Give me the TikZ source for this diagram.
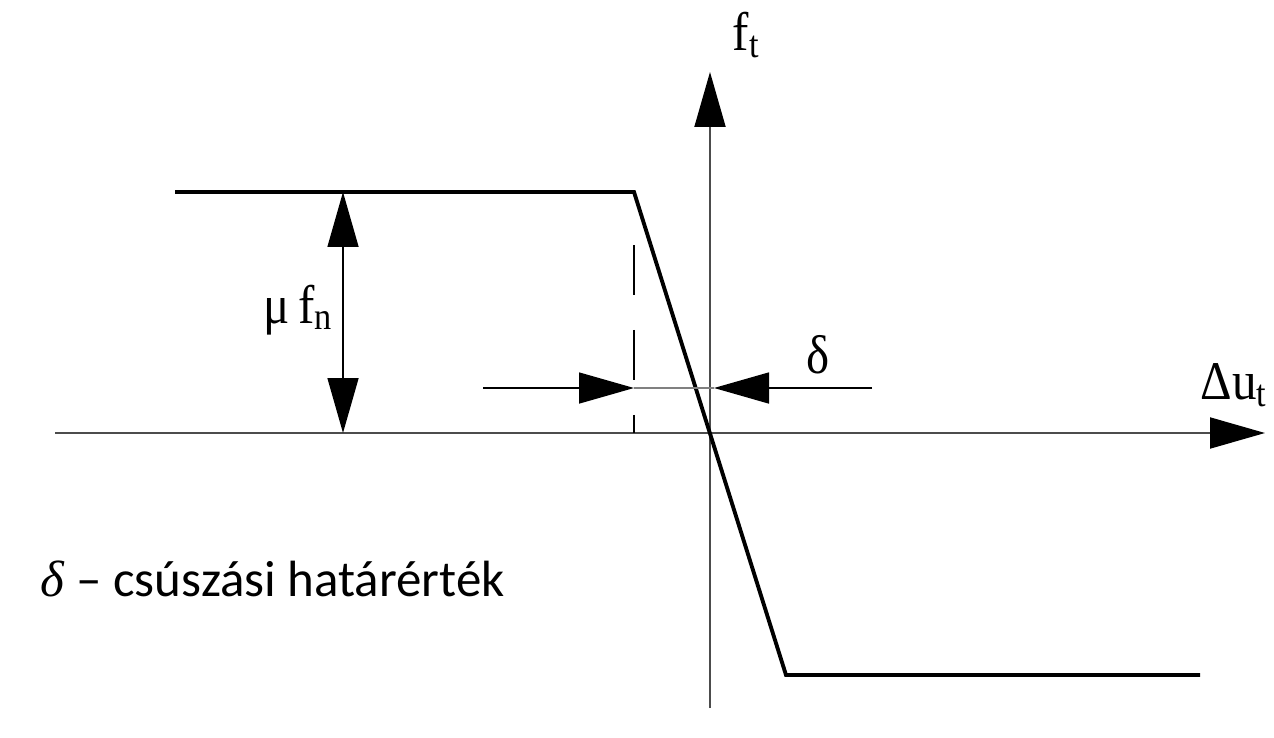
\documentclass[tikz,border=0pt]{standalone}
\usepackage{fontspec}
\setmainfont{Liberation Serif}
\newfontfamily\notefont{Carlito}
\usetikzlibrary{arrows.meta}

\begin{document}
\begin{tikzpicture}[x=0.02cm,y=-0.02cm,
    bigtip/.style={-{Triangle[length=1.1cm,width=0.62cm,color=black]}},
    bothtips/.style={{Triangle[length=1.1cm,width=0.62cm]}-{Triangle[length=1.1cm,width=0.62cm]}},
    axis/.style={bigtip,draw=black!70,line width=1.1pt},
    law/.style={line width=2.2pt,line join=miter},
    dimline/.style={bigtip,line width=0.9pt},
    guide/.style={line width=1pt,dash pattern=on 1cm off 0.7cm},
    lbl/.style={font=\fontsize{31}{34}\selectfont,inner sep=0pt}]
  \useasboundingbox (0,0) rectangle (1274,737);

  %% axes
  \coordinate (O) at (710,433);
  \coordinate (xstart) at (55,433);
  \coordinate (xend) at (1265,433);
  \coordinate (ystart) at (710,708);
  \coordinate (yend) at (710,72);
  \draw[axis] (xstart) -- (xend);
  \draw[axis] (ystart) -- (yend);
  \node[lbl] (ft) at (746,35) {\scalebox{0.9}[1]{f\textsubscript{t}}};
  \node[lbl] (dut) at (1234,385) {\scalebox{0.9}[1]{Δu\textsubscript{t}}};

  %% friction law
  \coordinate (topleft) at (175,192);
  \coordinate (topknee) at (634,192);
  \coordinate (botknee) at (786,675);
  \coordinate (botright) at (1200,675);
  \draw[law] (topleft) -- (topknee) -- (botknee) -- (botright);

  %% mu f_n
  \coordinate (mutop) at (343,192);
  \coordinate (mubot) at (343,433);
  \draw[bothtips,line width=0.9pt] (mutop) -- (mubot);
  \node[lbl] (mufn) at (298,310) {\scalebox{0.9}[1]{μ\,f\textsubscript{n}}};

  %% delta
  \coordinate (dashtop) at (634,245);
  \coordinate (dashbot) at (634,433);
  \draw[guide] (dashtop) -- (dashbot);
  \coordinate (dleft) at (483,388);
  \coordinate (dltip) at (634,388);
  \coordinate (drtip) at (714,388);
  \coordinate (dright) at (872,388);
  \draw[dimline] (dleft) -- (dltip);
  \draw[black!50,line width=0.8pt] (dltip) -- (drtip);
  \draw[dimline] (dright) -- (drtip);
  \node[lbl] (delta) at (818,355) {\scalebox{0.9}[1]{δ}};

  \node[anchor=base east,inner sep=0pt,font=\notefont\fontsize{29}{34}\selectfont]
        (note) at (505,596) {\textrm{\itshape δ} – csúszási határérték};
\end{tikzpicture}
\end{document}
